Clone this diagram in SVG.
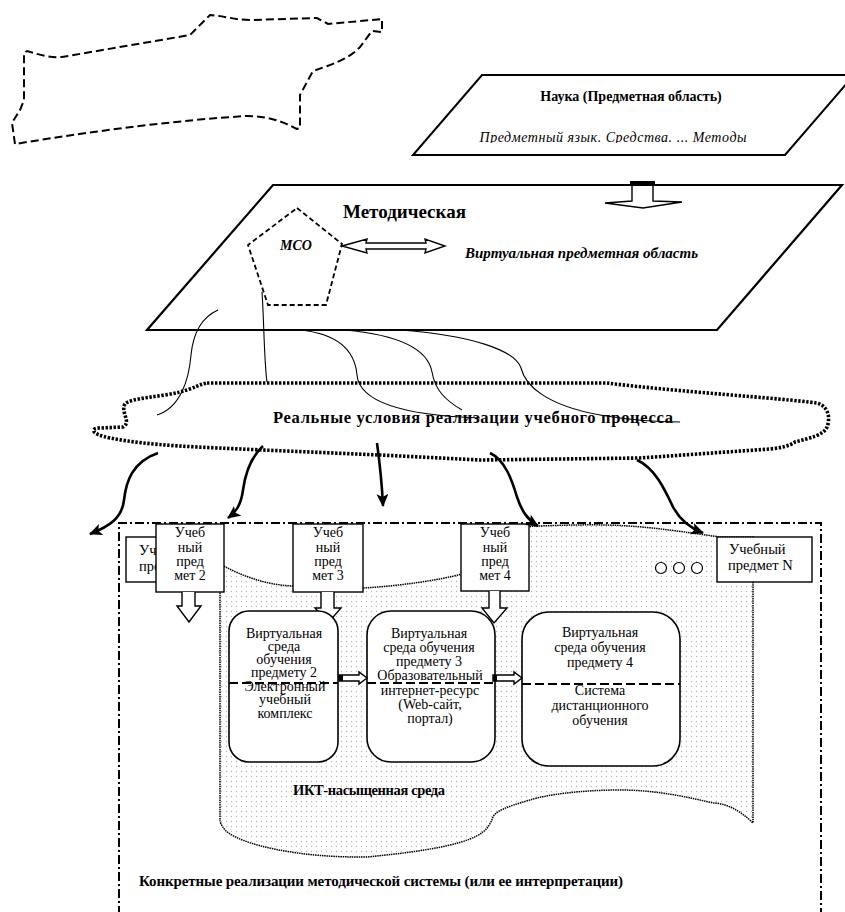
<svg xmlns="http://www.w3.org/2000/svg" width="845" height="912" viewBox="0 0 845 912">
  <style>
    .ser { font-family: "Liberation Serif", "Times New Roman", serif; fill: #000; }
    .b { font-weight: bold; }
    .i { font-style: italic; }
    .box { fill: #fff; stroke: #000; stroke-width: 1.4; }
    .rbox { fill: #fff; stroke: #000; stroke-width: 1.6; }
    .thin { fill: none; stroke: #000; stroke-width: 1.1; }
    .flow { fill: none; stroke: #000; stroke-width: 2.6; marker-end: url(#head); }
    .hollow { fill: #fff; stroke: #000; stroke-width: 1.4; stroke-linejoin: miter; }
    .divider { stroke: #000; stroke-width: 2; stroke-dasharray: 9 4; }
    .lbl { font-size: 14px; text-anchor: middle; }
  </style>
  <defs>
    <marker id="head" markerUnits="userSpaceOnUse" markerWidth="14" markerHeight="12" refX="12" refY="6" orient="auto">
      <path d="M0,0 L13,6 L0,12 L3,6 Z" fill="#000"/>
    </marker>
    <pattern id="dots" width="5" height="5" patternUnits="userSpaceOnUse">
      <rect width="5" height="5" fill="#fff"/>
      <circle cx="1.5" cy="1.5" r="0.65" fill="#b4b4b4"/>
    </pattern>
    <clipPath id="clipItal">
      <rect x="400" y="118" width="445" height="25"/>
    </clipPath>
  </defs>

  <rect width="845" height="912" fill="#fff"/>

  <!-- dashed free-form area, top left -->
  <g id="freeform">
    <path d="M15,144 L12,123 L15,118 L20,110 L24,100 L24,53 L27,51 C40,55 50,58 62,57 L190,35 L210,15 C225,16 235,20 250,20 L317,18 L328,24 L382,19 L382,32 L372,31 L360,47 C352,56 340,62 313,71 L300,95 L300,128 L297,129 C280,120 265,116 247,116 C180,120 100,130 15,144 Z"
          fill="none" stroke="#000" stroke-width="2" stroke-dasharray="8 4"/>
  </g>

  <!-- science plane -->
  <g id="science">
    <polygon points="482,75 854,75 785,155 413,155" fill="#fff" stroke="#000" stroke-width="2"/>
    <text class="ser b" x="631" y="101" font-size="14" text-anchor="middle">Наука (Предметная область)</text>
    <text class="ser i" x="613" y="142" font-size="14" text-anchor="middle" textLength="267" clip-path="url(#clipItal)">Предметный язык. Средства. ... Методы</text>
  </g>

  <!-- methodical plane -->
  <g id="method">
    <polygon points="273,185 842,185 717,330 147,330" fill="#fff" stroke="#000" stroke-width="2.2"/>
    <text class="ser b" x="343" y="218" font-size="19">Методическая</text>
    <text class="ser b i" x="465" y="258" font-size="15" textLength="233">Виртуальная предметная область</text>
  </g>

  <!-- methodical system pentagon -->
  <g id="mso">
    <polygon points="297,208 342,244 326,305 268,305 248,245" fill="none" stroke="#000" stroke-width="1.8" stroke-dasharray="5 3"/>
    <text class="ser b i" x="280" y="250" font-size="14">МСО</text>
  </g>

  <!-- real conditions cloud -->
  <g id="conditions">
    <path d="M207,383 L607,383 C680,392 780,398 817,403 C830,407 830,420 827,427 C824,435 810,438 795,442 C790,446 780,448 770,449 L640,458 L480,460 L380,455 L263,450 C200,447 150,446 110,438 C90,434 90,428 100,428 L123,427 C132,422 120,412 125,404 C130,398 160,397 180,392 C195,388 200,384 207,383 Z"
          fill="none" stroke="#000" stroke-width="3.6" stroke-dasharray="2.4 1.6"/>
    <text class="ser b" x="273" y="423" font-size="16.5" textLength="400">Реальные условия реализации учебного процесса</text>
  </g>

  <!-- frame of concrete implementations -->
  <g id="implementations">
    <path d="M119,915 L119,523 L821,523 L821,915" fill="none" stroke="#000" stroke-width="2" stroke-dasharray="9 3 2 3"/>
    <text class="ser b" x="139" y="886" font-size="15" textLength="484">Конкретные реализации методической системы (или ее интерпретации)</text>
  </g>

  <!-- ICT-rich environment -->
  <g id="ict">
    <path d="M222,565 C240,575 265,585 293,586 C320,588 345,588 363,588 C400,586 440,580 462,574 L462,530 C500,528 560,524 607,525 C650,526 690,533 720,537 L753,537 L753,823 C740,810 725,803 713,803 C680,795 650,790 620,790 C580,790 545,795 530,800 C505,807 495,812 493,817 C490,825 486,830 483,832 C470,842 440,850 367,857 C300,858 240,845 225,830 C221,825 220,822 220,820 L220,565 Z"
          fill="url(#dots)" stroke="#000" stroke-width="1.5" stroke-dasharray="1.5 0.8"/>
    <text class="ser b" x="293" y="795" font-size="14.5" textLength="152">ИКТ-насыщенная среда</text>
  </g>

  <!-- subject boxes -->
  <g id="subject1">
    <rect class="box" x="126" y="537" width="95" height="45"/>
    <text class="ser" x="139" y="555" font-size="14.5">Учебный</text>
    <text class="ser" x="139" y="571" font-size="14.5">предмет 1</text>
  </g>
  <g id="subject2">
    <rect class="box" x="156" y="524" width="68" height="68"/>
    <text class="ser lbl" x="190" y="537">Учеб</text>
    <text class="ser lbl" x="190" y="551.5">ный</text>
    <text class="ser lbl" x="190" y="566">пред</text>
    <text class="ser lbl" x="190" y="580">мет 2</text>
    <path class="hollow" d="M182,592 L182,606 L177,606 L189,622 L201,606 L195,606 L195,592"/>
  </g>
  <g id="subject3">
    <rect class="box" x="293" y="524" width="70" height="68"/>
    <text class="ser lbl" x="328" y="537">Учеб</text>
    <text class="ser lbl" x="328" y="551.5">ный</text>
    <text class="ser lbl" x="328" y="566">пред</text>
    <text class="ser lbl" x="328" y="580">мет 3</text>
    <path class="hollow" d="M321,592 L321,608 L315,608 L328,623 L341,608 L334,608 L334,592"/>
  </g>
  <g id="subject4">
    <rect class="box" x="461" y="524" width="68" height="67"/>
    <text class="ser lbl" x="495" y="537">Учеб</text>
    <text class="ser lbl" x="495" y="551.5">ный</text>
    <text class="ser lbl" x="495" y="566">пред</text>
    <text class="ser lbl" x="495" y="580">мет 4</text>
    <path class="hollow" d="M489,591 L489,608 L482,608 L494,623 L507,608 L500,608 L500,591"/>
  </g>
  <g id="ellipsis">
    <circle cx="661" cy="568" r="5.5" fill="#fff" stroke="#000" stroke-width="1.2"/>
    <circle cx="679" cy="568" r="5.5" fill="#fff" stroke="#000" stroke-width="1.2"/>
    <circle cx="697" cy="568" r="5.5" fill="#fff" stroke="#000" stroke-width="1.2"/>
  </g>
  <g id="subjectN">
    <rect class="box" x="717" y="537" width="95" height="45"/>
    <text class="ser" x="729" y="554" font-size="14.5">Учебный</text>
    <text class="ser" x="728" y="570" font-size="14.5">предмет N</text>
  </g>

  <!-- virtual learning environments -->
  <g id="env2">
    <rect class="rbox" x="229" y="611" width="109" height="151" rx="20"/>
    <text class="ser lbl" x="284" y="638">Виртуальная</text>
    <text class="ser lbl" x="284" y="651">среда</text>
    <text class="ser lbl" x="284" y="664">обучения</text>
    <text class="ser lbl" x="284" y="677">предмету 2</text>
    <text class="ser lbl" x="285" y="691">Электронный</text>
    <text class="ser lbl" x="285" y="704">учебный</text>
    <text class="ser lbl" x="285" y="718">комплекс</text>
    <line class="divider" x1="229" y1="683" x2="338" y2="683"/>
  </g>
  <g id="env3">
    <rect class="rbox" x="367" y="611" width="128" height="151" rx="24"/>
    <text class="ser lbl" x="429" y="638">Виртуальная</text>
    <text class="ser lbl" x="429" y="652">среда обучения</text>
    <text class="ser lbl" x="429" y="666">предмету 3</text>
    <text class="ser lbl" x="430" y="680">Образовательный</text>
    <text class="ser lbl" x="430" y="695">интернет-ресурс</text>
    <text class="ser lbl" x="430" y="709">(Web-сайт,</text>
    <text class="ser lbl" x="430" y="723">портал)</text>
    <line class="divider" x1="367" y1="683" x2="495" y2="683"/>
  </g>
  <g id="env4">
    <rect class="rbox" x="522" y="612" width="158" height="154" rx="27"/>
    <text class="ser lbl" x="600" y="637">Виртуальная</text>
    <text class="ser lbl" x="600" y="652">среда обучения</text>
    <text class="ser lbl" x="600" y="667">предмету 4</text>
    <text class="ser lbl" x="600" y="695">Система</text>
    <text class="ser lbl" x="600" y="710">дистанционного</text>
    <text class="ser lbl" x="600" y="725">обучения</text>
    <line class="divider" x1="522" y1="684" x2="680" y2="684"/>
  </g>

  <!-- connectors -->
  <g id="connectors">
    <!-- science to methodical plane -->
    <rect x="630" y="181" width="25" height="5" fill="#000"/>
    <path class="hollow" d="M632,186 L632,201 L605,203 L643,208 L682,202 L653,201 L653,186"/>
    <!-- MSO to virtual subject area -->
    <path class="hollow" d="M342,246 L367,239 L366,243 L426,243 L425,239 L445,246 L425,253 L426,249 L366,249 L367,253 Z"/>
    <!-- links from the methodical plane to real conditions -->
    <path class="thin" d="M218,310 C200,318 193,335 191,355 C189,380 180,408 157,415"/>
    <path class="thin" d="M262,292 C264,320 264,360 267,382"/>
    <path class="thin" d="M300,330 C340,334 355,352 357,375 C359,398 390,415 480,418"/>
    <path class="thin" d="M345,330 C400,335 428,350 432,372 C435,390 445,400 462,410"/>
    <path class="thin" d="M400,330 C470,335 515,350 521,368 C525,385 545,405 600,415 C630,420 660,422 680,422"/>
    <!-- real conditions to implementations -->
    <path class="flow" d="M158,453 C132,462 126,482 124,500 C122,518 110,526 90,534"/>
    <path class="flow" d="M263,446 C250,458 245,475 243,490 C241,505 236,512 228,518"/>
    <path class="flow" d="M377,443 C380,465 382,485 383,506"/>
    <path class="flow" d="M490,453 C505,460 512,480 517,497 C522,512 528,520 538,526"/>
    <path class="flow" d="M637,460 C655,468 665,490 673,507 C680,520 690,528 703,533"/>
    <!-- between virtual environments -->
    <path class="hollow" d="M339,675 L359,675 L359,672 L367,678 L359,684 L359,681 L339,681 Z"/>
    <rect x="339" y="675" width="4" height="6" fill="#000"/>
    <path class="hollow" d="M493,675 L514,675 L514,672 L522,678 L514,684 L514,681 L493,681 Z"/>
    <rect x="493" y="675" width="4" height="6" fill="#000"/>
  </g>
</svg>
